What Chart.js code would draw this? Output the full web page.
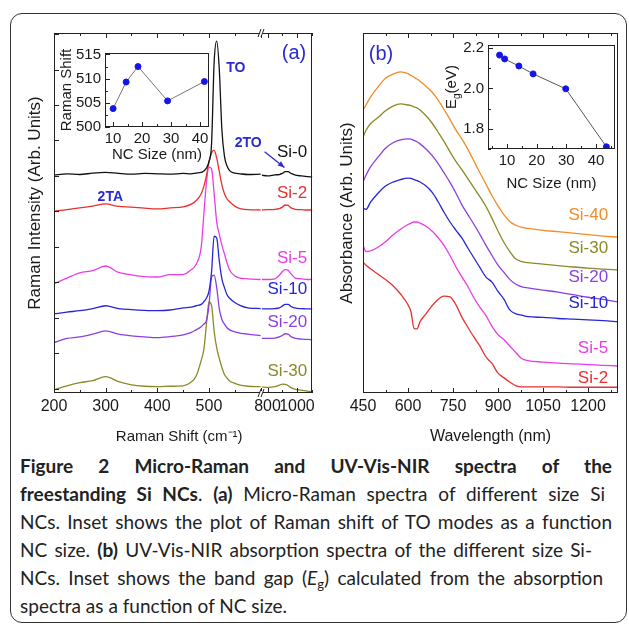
<!DOCTYPE html>
<html>
<head>
<meta charset="utf-8">
<script src="https://cdn.jsdelivr.net/npm/chart.js@4.4.1/dist/chart.umd.min.js"></script>
<style>
    body { margin: 0; width: 629px; height: 624px; position: relative; overflow: hidden; background: #fff; }
    .box { position: absolute; left: 10px; top: 13px; width: 617px; height: 610px; box-sizing: border-box;
           border: 1.5px solid #333; border-radius: 12px; }
    canvas { position: absolute; }
    .cap { position: absolute; left: 20px; top: 452px; font-family: Lato, sans-serif; font-size: 19px;
           line-height: 28px; color: #222; }
    .cap div { white-space: nowrap; text-align: justify; text-align-last: justify; }
    .cap div.last { text-align-last: left; }
    .cap sub { font-size: 13px; line-height: 0; vertical-align: -4px; }
</style>
</head>
<body>
<div class="box"></div>
<canvas id="ramanChart" width="330" height="450" style="left:0;top:0"></canvas>
<canvas id="absChart" width="299" height="450" style="left:330px;top:0"></canvas>
<canvas id="ramanInset" width="160" height="130" style="left:55px;top:40px"></canvas>
<canvas id="gapInset" width="185" height="170" style="left:440px;top:30px"></canvas>

<div class="cap">
    <div style="width:592px"><b>Figure 2 Micro-Raman and UV-Vis-NIR spectra of the</b></div>
    <div style="width:585px"><b>freestanding Si NCs</b>. <b>(a)</b> Micro-Raman spectra of different size Si</div>
    <div style="width:592px">NCs. Inset shows the plot of Raman shift of TO modes as a function</div>
    <div style="width:572px">NC size. <b>(b)</b> UV-Vis-NIR absorption spectra of the different size Si-</div>
    <div style="width:583px">NCs. Inset shows the band gap (<i>E</i><sub>g</sub>) calculated from the absorption</div>
    <div class="last">spectra as a function of NC size.</div>
</div>

<script>
// ============================================
// DATA - panel (a) Raman spectra (broken x axis)
// ============================================
const ramanL = [200, 225, 250, 275, 300, 325, 350, 375, 400, 425, 450, 465, 475, 485, 490, 495, 500, 505, 510, 515, 520, 525, 530, 535, 540, 550, 560, 575, 600];
const si0L  = [6.02, 6.06, 6.04, 6.08, 6.10, 6.07, 6.05, 6.07, 6.06, 6.05, 6.07, 6.06, 6.08, 6.10, 6.14, 6.22, 6.40, 6.90, 9.20, 9.80, 9.00, 7.30, 6.55, 6.28, 6.15, 6.08, 6.06, 6.04, 6.05];
const si2L  = [5.01, 5.05, 5.10, 5.15, 5.21, 5.14, 5.12, 5.09, 5.07, 5.10, 5.13, 5.20, 5.30, 5.50, 5.70, 6.00, 6.40, 6.65, 6.73, 6.50, 6.12, 5.75, 5.50, 5.35, 5.27, 5.15, 5.08, 5.05, 5.04];
const si5L  = [2.96, 3.12, 3.27, 3.33, 3.46, 3.28, 3.21, 3.16, 3.15, 3.22, 3.22, 3.35, 3.50, 4.00, 4.90, 5.80, 6.25, 6.20, 5.50, 4.70, 4.35, 4.05, 3.80, 3.55, 3.35, 3.18, 3.12, 3.10, 3.08];
const si10L = [2.11, 2.16, 2.20, 2.26, 2.34, 2.26, 2.23, 2.21, 2.20, 2.22, 2.28, 2.30, 2.34, 2.38, 2.45, 2.55, 2.75, 3.30, 4.30, 4.25, 3.60, 3.10, 2.85, 2.65, 2.55, 2.43, 2.35, 2.28, 2.26];
const si20L = [1.30, 1.42, 1.46, 1.54, 1.63, 1.54, 1.49, 1.46, 1.44, 1.47, 1.52, 1.58, 1.66, 1.75, 1.82, 1.92, 2.35, 3.15, 3.20, 2.85, 2.25, 1.95, 1.82, 1.72, 1.66, 1.60, 1.57, 1.54, 1.50];
const si30L = [-0.03, 0.08, 0.17, 0.23, 0.34, 0.20, 0.11, 0.07, 0.06, 0.07, 0.08, 0.18, 0.35, 0.80, 1.10, 1.80, 2.45, 2.35, 1.62, 1.15, 0.85, 0.60, 0.40, 0.30, 0.22, 0.15, 0.10, 0.07, 0.06];

const ramanR = [760, 800, 850, 880, 900, 920, 940, 960, 990, 1030, 1070, 1105];
const si0R  = [6.02, 6.00, 6.03, 6.04, 6.07, 6.12, 6.12, 6.07, 6.02, 6.00, 5.98, 5.97];
const si2R  = [5.04, 5.05, 5.06, 5.08, 5.12, 5.18, 5.17, 5.10, 5.06, 5.05, 5.04, 5.04];
const si5R  = [3.08, 3.08, 3.10, 3.20, 3.30, 3.36, 3.34, 3.24, 3.12, 3.10, 3.08, 3.08];
const si10R = [2.25, 2.25, 2.26, 2.28, 2.33, 2.38, 2.38, 2.32, 2.27, 2.26, 2.25, 2.25];
const si20R = [1.42, 1.42, 1.43, 1.46, 1.50, 1.55, 1.54, 1.47, 1.42, 1.40, 1.39, 1.38];
const si30R = [0.05, 0.04, 0.06, 0.10, 0.13, 0.12, 0.09, 0.03, -0.02, -0.04, -0.07, -0.09];

const ramanNames = ['Si-0', 'Si-2', 'Si-5', 'Si-10', 'Si-20', 'Si-30'];
const ramanLabelY = [6.68, 5.52, 3.69, 2.79, 1.86, 0.48];

// inset (a): TO peak position vs NC size
const sizeA = [10, 14.5, 18.6, 28.8, 41.5];
const toShift = [503.8, 509.3, 512.5, 505.4, 509.4];

// ============================================
// DATA - panel (b) UV-Vis-NIR absorbance
// ============================================
const wavelength = [450, 460, 475, 500, 525, 550, 575, 600, 610, 620, 630, 640, 660, 680, 700, 720, 740, 760, 780, 800, 820, 840, 860, 880, 900, 920, 940, 960, 980, 1000, 1050, 1100, 1150, 1200, 1250, 1300];
const absSi40 = [7.86, 8.00, 8.22, 8.50, 8.74, 8.86, 8.92, 8.87, 8.82, 8.77, 8.72, 8.66, 8.52, 8.36, 8.14, 7.88, 7.60, 7.30, 7.05, 6.76, 6.44, 6.11, 5.80, 5.48, 5.20, 4.95, 4.76, 4.66, 4.60, 4.57, 4.52, 4.48, 4.44, 4.40, 4.36, 4.33];
const absSi30 = [7.11, 7.30, 7.48, 7.65, 7.84, 7.97, 8.03, 8.00, 7.98, 7.95, 7.92, 7.86, 7.70, 7.50, 7.25, 6.99, 6.70, 6.43, 6.20, 5.95, 5.70, 5.45, 5.18, 4.85, 4.50, 4.18, 3.92, 3.72, 3.65, 3.62, 3.58, 3.54, 3.50, 3.47, 3.44, 3.42];
const absSi20 = [5.86, 6.05, 6.28, 6.55, 6.80, 6.95, 7.03, 7.06, 7.05, 7.02, 6.98, 6.92, 6.78, 6.60, 6.38, 6.12, 5.85, 5.55, 5.22, 4.95, 4.68, 4.40, 4.10, 3.82, 3.55, 3.35, 3.15, 3.02, 2.95, 2.92, 2.86, 2.80, 2.73, 2.66, 2.60, 2.53];
const absSi10 = [5.14, 5.10, 5.30, 5.55, 5.75, 5.86, 5.93, 5.97, 5.96, 5.93, 5.90, 5.86, 5.75, 5.58, 5.32, 5.02, 4.75, 4.52, 4.30, 4.02, 3.75, 3.48, 3.22, 3.08, 2.82, 2.60, 2.30, 2.20, 2.16, 2.12, 2.10, 2.07, 2.05, 2.03, 2.01, 1.98];
const absSi5  = [4.11, 3.93, 3.95, 4.05, 4.20, 4.39, 4.55, 4.68, 4.72, 4.75, 4.75, 4.72, 4.63, 4.50, 4.32, 4.10, 3.82, 3.50, 3.22, 2.95, 2.64, 2.38, 2.15, 1.85, 1.62, 1.48, 1.30, 1.12, 0.95, 0.90, 0.86, 0.83, 0.81, 0.79, 0.77, 0.75];
const absSi2  = [3.64, 3.55, 3.45, 3.30, 3.15, 2.98, 2.75, 2.45, 2.25, 1.80, 1.78, 1.98, 2.20, 2.42, 2.60, 2.69, 2.67, 2.45, 2.10, 1.82, 1.55, 1.30, 1.00, 0.82, 0.55, 0.42, 0.30, 0.20, 0.17, 0.17, 0.17, 0.17, 0.16, 0.16, 0.16, 0.16];

const absNames = ['Si-40', 'Si-30', 'Si-20', 'Si-10', 'Si-5', 'Si-2'];
const absLabelY = [4.94, 4.03, 3.22, 2.50, 1.25, 0.42];

// inset (b): band gap vs NC size
const sizeB = [7.5, 9.2, 14, 18.8, 29.8, 43.5];
const bandGap = [2.165, 2.146, 2.111, 2.072, 1.998, 1.711];

// ============================================
// STYLE
// ============================================
const C = {
    black: '#111111', red: '#e8302c', magenta: '#ea3ce6', blue: '#2626d6',
    purple: '#8c3fe0', olive: '#8a8a26', orange: '#f28c28', note: '#2a2ad0'
};
const ramanColors = [C.black, C.red, C.magenta, C.blue, C.purple, C.olive];
const absColors = [C.orange, C.olive, C.purple, C.blue, C.magenta, C.red];

Chart.defaults.font.family = "'Liberation Sans', Arial, sans-serif";
Chart.defaults.color = '#1a1a1a';

const pts = (xs, ys) => xs.map((x, i) => ({ x, y: ys[i] }));
const plain = v => String(v);

// ============================================
// PLUGINS
// ============================================

// Frame around plot area + inward tick marks (major / minor)
const framePlugin = {
    id: 'frame',
    afterDraw(chart, args, opts) {
        const { ctx, chartArea: a } = chart;
        ctx.save();
        ctx.strokeStyle = '#222';
        ctx.lineWidth = 1;
        ctx.strokeRect(Math.round(a.left) + 0.5, Math.round(a.top) + 0.5,
            Math.round(a.right - a.left) - 1, Math.round(a.bottom - a.top) - 1);

        (opts.ticks || []).forEach(spec => {
            const s = chart.scales[spec.id];
            const first = Math.ceil(s.min / spec.minor - 1e-9);
            const last = Math.floor(s.max / spec.minor + 1e-9);
            for (let k = first; k <= last; k++) {
                const v = k * spec.minor;
                const r = v / spec.major;
                const len = Math.abs(r - Math.round(r)) < 1e-6 ? 5 : 3;
                const p = Math.round(s.getPixelForValue(v)) + 0.5;
                ctx.beginPath();
                if (s.isHorizontal()) {
                    ctx.moveTo(p, a.bottom); ctx.lineTo(p, a.bottom - len);
                    if (spec.top) { ctx.moveTo(p, a.top); ctx.lineTo(p, a.top + len); }
                } else {
                    ctx.moveTo(a.left, p); ctx.lineTo(a.left + len, p);
                }
                ctx.stroke();
            }
        });
        ctx.restore();
    }
};

// "//" marks where the Raman x axis is broken
const breakPlugin = {
    id: 'axisBreak',
    afterDraw(chart) {
        const { ctx, chartArea: a } = chart;
        const x = Math.round(chart.scales.xL.right);
        ctx.save();
        [a.top, a.bottom].forEach(y => {
            ctx.fillStyle = '#fff';
            ctx.fillRect(x - 2, y - 2, 3, 4);
            ctx.strokeStyle = '#222';
            ctx.lineWidth = 1;
            ctx.beginPath();
            ctx.moveTo(x - 4, y + 4); ctx.lineTo(x - 1, y - 4);
            ctx.moveTo(x - 1, y + 4); ctx.lineTo(x + 2, y - 4);
            ctx.stroke();
        });
        ctx.restore();
    }
};

// text notes and arrows placed in data coordinates
const notesPlugin = {
    id: 'notes',
    afterDraw(chart, args, opts) {
        const { ctx } = chart;
        ctx.save();
        (opts.items || []).forEach(n => {
            const sx = chart.scales[n.xAxis || 'x'];
            const sy = chart.scales[n.yAxis || 'y'];
            if (n.arrow) {
                const x1 = sx.getPixelForValue(n.arrow[0]), y1 = sy.getPixelForValue(n.arrow[1]);
                const x2 = sx.getPixelForValue(n.arrow[2]), y2 = sy.getPixelForValue(n.arrow[3]);
                const ang = Math.atan2(y2 - y1, x2 - x1);
                ctx.strokeStyle = n.color; ctx.fillStyle = n.color; ctx.lineWidth = 1.3;
                ctx.beginPath(); ctx.moveTo(x1, y1); ctx.lineTo(x2, y2); ctx.stroke();
                ctx.beginPath();
                ctx.moveTo(x2, y2);
                ctx.lineTo(x2 - 7 * Math.cos(ang - 0.4), y2 - 7 * Math.sin(ang - 0.4));
                ctx.lineTo(x2 - 7 * Math.cos(ang + 0.4), y2 - 7 * Math.sin(ang + 0.4));
                ctx.closePath(); ctx.fill();
                return;
            }
            ctx.font = n.font;
            ctx.fillStyle = n.color;
            ctx.textAlign = n.align || 'center';
            ctx.textBaseline = 'middle';
            ctx.fillText(n.text, sx.getPixelForValue(n.x), sy.getPixelForValue(n.y));
        });
        ctx.restore();
    }
};

// axis titles drawn at fixed offsets from the plot area
const titlesPlugin = {
    id: 'titles',
    afterDraw(chart, args, opts) {
        const { ctx, chartArea: a } = chart;
        ctx.save();
        ctx.fillStyle = '#1a1a1a';
        ctx.textBaseline = 'middle';
        if (opts.x) {
            ctx.font = opts.x.font;
            ctx.textAlign = 'center';
            ctx.fillText(opts.x.text, (a.left + a.right) / 2 + (opts.x.dx || 0), a.bottom + opts.x.dy);
        }
        if (opts.y) {
            ctx.font = opts.y.font;
            ctx.translate(a.left - opts.y.dx, (a.top + a.bottom) / 2 + (opts.y.dy || 0));
            ctx.rotate(-Math.PI / 2);
            if (opts.y.sub) {
                // main text + subscript + rest, centred as a whole
                const small = opts.y.subFont;
                const w1 = ctx.measureText(opts.y.text).width;
                ctx.font = small;
                const w2 = ctx.measureText(opts.y.sub).width;
                ctx.font = opts.y.font;
                const w3 = ctx.measureText(opts.y.rest).width;
                let x0 = -(w1 + w2 + w3) / 2;
                ctx.textAlign = 'left';
                ctx.fillText(opts.y.text, x0, 0);
                ctx.font = small;
                ctx.fillText(opts.y.sub, x0 + w1, 5);
                ctx.font = opts.y.font;
                ctx.fillText(opts.y.rest, x0 + w1 + w2, 0);
            } else {
                ctx.textAlign = 'center';
                ctx.fillText(opts.y.text, 0, 0);
            }
        }
        ctx.restore();
    }
};

const fixedTicks = values => scale => { scale.ticks = values.map(v => ({ value: v })); };
const noGrid = { display: false, drawTicks: false };
const noBorder = { display: false };

// ============================================
// PANEL (a) - RAMAN
// ============================================
function buildRamanChart() {
    const lefts = [si0L, si2L, si5L, si10L, si20L, si30L];
    const rights = [si0R, si2R, si5R, si10R, si20R, si30R];
    const datasets = [];
    ramanNames.forEach((name, i) => {
        datasets.push({ label: name, data: pts(ramanL, lefts[i]), xAxisID: 'xL', yAxisID: 'y', borderColor: ramanColors[i] });
        datasets.push({ label: name, data: pts(ramanR, rights[i]), xAxisID: 'xR', yAxisID: 'y', borderColor: ramanColors[i] });
    });

    const notes = ramanNames.map((name, i) => ({
        text: name, x: 1070, y: ramanLabelY[i], xAxis: 'xR', color: ramanColors[i],
        font: '17px "Liberation Sans"', align: 'right'
    }));
    notes.push({ text: '(a)', x: 980, y: 9.46, xAxis: 'xR', color: C.note, font: '20px "Liberation Sans"' });
    notes.push({ text: 'TO', x: 552, y: 9.04, xAxis: 'xL', color: C.note, font: 'bold 14px "Liberation Sans"' });
    notes.push({ text: '2TO', x: 576, y: 6.93, xAxis: 'xL', color: C.note, font: 'bold 14px "Liberation Sans"' });
    notes.push({ text: '2TA', x: 309, y: 5.41, xAxis: 'xL', color: C.note, font: 'bold 14px "Liberation Sans"' });
    notes.push({ arrow: [780, 6.68, 915, 6.24], xAxis: 'xR', color: C.note });

    new Chart(document.getElementById('ramanChart'), {
        type: 'line',
        data: { datasets },
        options: {
            responsive: false,
            animation: false,
            devicePixelRatio: 1,
            layout: { padding: { top: 33, right: 11, left: 0, bottom: 0 } },
            elements: {
                point: { radius: 0 },
                line: { borderWidth: 1.3, cubicInterpolationMode: 'monotone' }
            },
            plugins: {
                legend: { display: false },
                tooltip: { enabled: false },
                frame: { ticks: [
                    { id: 'xL', major: 100, minor: 50, top: true },
                    { id: 'xR', major: 200, minor: 100, top: true },
                    { id: 'y', major: 1, minor: 1 }
                ] },
                notes: { items: notes },
                titles: {
                    x: { text: 'Raman Shift (cm\u207B\u00B9)', font: '15px "Liberation Sans"', dy: 44, dx: -4 },
                    y: { text: 'Raman Intensity (Arb. Units)', font: '17px "Liberation Sans"', dx: 19, dy: -10 }
                }
            },
            scales: {
                xL: {
                    type: 'linear', position: 'bottom', stack: 'raman', stackWeight: 213,
                    min: 200, max: 602, grid: noGrid, border: noBorder,
                    ticks: { font: { size: 16 }, padding: 4, maxRotation: 0, autoSkip: false, callback: plain },
                    afterBuildTicks: fixedTicks([200, 300, 400, 500]),
                    afterFit: s => { s.height = 57; }
                },
                xR: {
                    type: 'linear', position: 'bottom', stack: 'raman', stackWeight: 52,
                    min: 760, max: 1105, grid: noGrid, border: noBorder,
                    ticks: { font: { size: 16 }, padding: 4, maxRotation: 0, autoSkip: false, callback: plain },
                    afterBuildTicks: fixedTicks([800, 1000]),
                    afterFit: s => { s.height = 57; }
                },
                y: {
                    type: 'linear', position: 'left', min: -0.12, max: 10.03,
                    grid: noGrid, border: noBorder, ticks: { display: false },
                    afterFit: s => { s.width = 54; }
                }
            }
        },
        plugins: [framePlugin, breakPlugin, notesPlugin, titlesPlugin]
    });
}

// ============================================
// PANEL (b) - ABSORBANCE
// ============================================
function buildAbsChart() {
    const series = [absSi40, absSi30, absSi20, absSi10, absSi5, absSi2];
    const datasets = absNames.map((name, i) => ({
        label: name, data: pts(wavelength, series[i]), borderColor: absColors[i]
    }));
    const notes = absNames.map((name, i) => ({
        text: name, x: 1267, y: absLabelY[i], color: absColors[i], font: '17px "Liberation Sans"', align: 'right'
    }));
    notes.push({ text: '(b)', x: 510, y: 9.39, color: C.note, font: '20px "Liberation Sans"' });

    new Chart(document.getElementById('absChart'), {
        type: 'line',
        data: { datasets },
        options: {
            responsive: false,
            animation: false,
            devicePixelRatio: 1,
            layout: { padding: { top: 33, right: 11, left: 0, bottom: 0 } },
            elements: {
                point: { radius: 0 },
                line: { borderWidth: 1.3, cubicInterpolationMode: 'monotone' }
            },
            plugins: {
                legend: { display: false },
                tooltip: { enabled: false },
                frame: { ticks: [{ id: 'x', major: 150, minor: 75, top: true }] },
                notes: { items: notes },
                titles: {
                    x: { text: 'Wavelength (nm)', font: '16px "Liberation Sans"', dy: 44 },
                    y: { text: 'Absorbance (Arb. Units)', font: '17px "Liberation Sans"', dx: 16 }
                }
            },
            scales: {
                x: {
                    type: 'linear', position: 'bottom', min: 450, max: 1300,
                    grid: noGrid, border: noBorder,
                    ticks: { font: { size: 16 }, padding: 4, maxRotation: 0, autoSkip: false, callback: plain },
                    afterBuildTicks: fixedTicks([450, 600, 750, 900, 1050, 1200]),
                    afterFit: s => { s.height = 57; }
                },
                y: {
                    type: 'linear', position: 'left', min: 0, max: 10,
                    grid: noGrid, border: noBorder, ticks: { display: false },
                    afterFit: s => { s.width = 33; }
                }
            }
        },
        plugins: [framePlugin, notesPlugin, titlesPlugin]
    });
}

// ============================================
// INSETS
// ============================================
function insetOptions(cfg) {
    return {
        responsive: false,
        animation: false,
        devicePixelRatio: 1,
        layout: { padding: cfg.padding },
        plugins: {
            legend: { display: false },
            tooltip: { enabled: false },
            frame: { ticks: cfg.ticks },
            titles: cfg.titles
        },
        scales: {
            x: {
                type: 'linear', min: cfg.xMin, max: cfg.xMax, grid: noGrid, border: noBorder,
                ticks: { font: { size: 15 }, padding: cfg.xPad, maxRotation: 0, autoSkip: false, callback: plain },
                afterBuildTicks: fixedTicks([10, 20, 30, 40]),
                afterFit: s => { s.height = cfg.xH; }
            },
            y: {
                type: 'linear', min: cfg.yMin, max: cfg.yMax, grid: noGrid, border: noBorder,
                ticks: { font: { size: 15 }, padding: 4, callback: cfg.yFmt },
                afterBuildTicks: fixedTicks(cfg.yTicks),
                afterFit: s => { s.width = cfg.yW; }
            }
        }
    };
}

function buildInsets() {
    const lineStyle = {
        borderColor: '#777', borderWidth: 1, pointRadius: 3,
        pointBackgroundColor: '#1515e6', pointBorderColor: '#1515e6'
    };

    new Chart(document.getElementById('ramanInset'), {
        type: 'line',
        data: { datasets: [{ data: pts(sizeA, toShift), ...lineStyle }] },
        options: insetOptions({
            padding: { top: 9, right: 6, left: 0, bottom: 0 },
            xMin: 7.2, xMax: 43.1, yMin: 500, yMax: 515.3, xH: 43, yW: 50, xPad: 3,
            yTicks: [500, 505, 510, 515], yFmt: plain,
            ticks: [{ id: 'x', major: 10, minor: 5 }, { id: 'y', major: 5, minor: 2.5 }],
            titles: { x: { text: 'NC Size (nm)', font: '15px "Liberation Sans"', dy: 28 },
                      y: { text: 'Raman Shift', font: '15px "Liberation Sans"', dx: 38 } }
        }),
        plugins: [framePlugin, titlesPlugin]
    });

    new Chart(document.getElementById('gapInset'), {
        type: 'line',
        data: { datasets: [{ data: pts(sizeB, bandGap), ...lineStyle, borderColor: '#555' }] },
        options: insetOptions({
            padding: { top: 15, right: 10, left: 0, bottom: 0 },
            xMin: 3.6, xMax: 46.4, yMin: 1.70, yMax: 2.215, xH: 51, yW: 48, xPad: 3,
            yTicks: [1.8, 2.0, 2.2], yFmt: v => v.toFixed(1),
            ticks: [{ id: 'x', major: 10, minor: 5 }, { id: 'y', major: 0.2, minor: 0.1 }],
            titles: { x: { text: 'NC Size (nm)', font: '15px "Liberation Sans"', dy: 35 },
                      y: { text: 'E', sub: 'g', rest: '(eV)', font: '15px "Liberation Sans"',
                           subFont: '10px "Liberation Sans"', dx: 36, dy: -10 } }
        }),
        plugins: [framePlugin, titlesPlugin]
    });
}

buildRamanChart();
buildAbsChart();
buildInsets();
</script>
</body>
</html>
